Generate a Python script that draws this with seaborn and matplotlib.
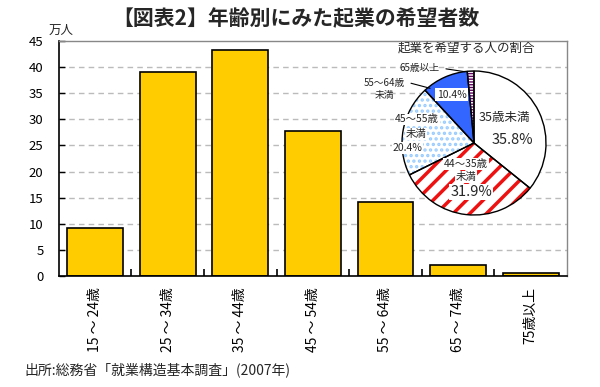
import matplotlib
matplotlib.use("Agg")
import matplotlib.pyplot as plt
import seaborn as sns
import pandas as pd

ages = ["15 〜 24歳", "25 〜 34歳", "35 〜 44歳", "45 〜 54歳", "55 〜 64歳", "65 〜 74歳", "75歳以上"]
hopefuls = [9.2, 39.1, 43.3, 27.8, 14.2, 2.1, 0.5]

pie_groups = ["35歳未満", "44〜35歳未満", "45〜55歳未満", "55〜64歳未満", "65歳以上"]
pie_shares = [35.8, 31.9, 20.4, 10.4, 1.5]

sns.set_theme(style="white")
plt.rcParams["font.family"] = ["Noto Sans CJK JP", "DejaVu Sans"]
plt.rcParams["hatch.linewidth"] = 2.5

df = pd.DataFrame({"age": ages, "count": hopefuls})

fig = plt.figure(figsize=(6, 3.87), dpi=100)
ax = fig.add_axes([0.098, 0.287, 0.847, 0.607])

sns.barplot(data=df, x="age", y="count", color="#FFCC00", saturation=1,
            width=0.77, edgecolor="black", linewidth=1.2, ax=ax)

ax.set_xlim(-0.5, 6.5)
ax.set_ylim(0, 45)
ax.set_yticks(range(0, 46, 5))
ax.set_xlabel("")
ax.set_ylabel("")
for y in range(5, 45, 5):
    ax.axhline(y, color="#BBBBBB", lw=1, ls=(0, (4, 3)), zorder=0)

ax.set_xticks(range(len(ages)))
ax.set_xticklabels(ages, rotation=90, fontsize=10, color="black")
ax.set_xticks([i + 0.5 for i in range(len(ages) - 1)], minor=True)
ax.tick_params(axis="x", which="major", length=0, pad=8)
ax.tick_params(axis="x", which="minor", direction="in", length=5, width=1.2,
               color="black", bottom=True)
ax.tick_params(axis="y", direction="in", length=4, width=1, color="black",
               labelsize=9.5, pad=11, left=True, labelcolor="black")

for side in ["left", "bottom"]:
    ax.spines[side].set_color("black")
    ax.spines[side].set_linewidth(1.2)
for side in ["top", "right"]:
    ax.spines[side].set_color("#888888")
    ax.spines[side].set_linewidth(1)

fig.text(0.102, 0.922, "万人", fontsize=9, ha="center", va="center")
fig.text(0.493, 0.953, "【図表2】年齢別にみた起業の希望者数", fontsize=15,
         weight="bold", ha="center", va="center")
fig.text(0.04, 0.044, "出所:総務省「就業構造基本調査」(2007年)", fontsize=10,
         ha="left", va="center")
fig.text(0.777, 0.876, "起業を希望する人の割合", fontsize=9, ha="center", va="center")

# inset pie
r = 72
cx, cy = 474, 143
pax = fig.add_axes([(cx - r) / 600, 1 - (cy + r) / 387, 2 * r / 600, 2 * r / 387])
faces = ["white", "white", "white", "#3366FF", "white"]
hatches = [None, "//", "...", None, "------"]
hcolors = ["black", "#EE1111", "#99CCFF", "black", "#660066"]
wedges, _ = pax.pie(pie_shares, startangle=90, counterclock=False, radius=1,
                    colors=faces, wedgeprops=dict(linewidth=0))
for w, h, hc in zip(wedges, hatches, hcolors):
    if h:
        w.set_hatch(h)
        w.set_edgecolor(hc)
# thinner stripes on the tiny 65+ slice
if hasattr(wedges[4], "set_hatch_linewidth"):
    wedges[4].set_hatch_linewidth(1.0)
    wedges[2].set_hatch_linewidth(1.6)
pax.pie(pie_shares, startangle=90, counterclock=False, radius=1,
        colors=["none"] * 5, wedgeprops=dict(linewidth=1, edgecolor="black", fill=False))
pax.set_xlim(-1, 1)
pax.set_ylim(-1, 1)
pax.set_aspect("equal")
pax.axis("off")

small = 7.5
big = 10.5
wb = dict(facecolor="white", edgecolor="none", pad=0.5)
pax.text(0.42, 0.35, "35歳未満", fontsize=small + 1.5, ha="center", va="center")
pax.text(0.53, 0.04, "35.8%", fontsize=big, ha="center", va="center")
pax.text(-0.11, -0.29, "44〜35歳", fontsize=small, ha="center", va="center", bbox=wb)
pax.text(-0.11, -0.47, "未満", fontsize=small, ha="center", va="center", bbox=wb)
pax.text(-0.04, -0.68, "31.9%", fontsize=big, ha="center", va="center", bbox=wb)
pax.text(-0.79, 0.33, "45〜55歳", fontsize=small, ha="center", va="center", bbox=wb)
pax.text(-0.81, 0.125, "未満", fontsize=small, ha="center", va="center", bbox=wb)
pax.text(-0.92, -0.07, "20.4%", fontsize=small, ha="center", va="center", bbox=wb)
pax.text(-0.31, 0.67, "10.4%", fontsize=small, ha="center", va="center",
         bbox=dict(facecolor="white", edgecolor="none", pad=1))
pax.text(-1.24, 0.83, "55〜64歳", fontsize=small - 0.5, ha="center", va="center")
pax.text(-1.24, 0.67, "未満", fontsize=small - 0.5, ha="center", va="center")
pax.text(-0.75, 1.04, "65歳以上", fontsize=small - 0.5, ha="center", va="center")
pax.plot([-0.39, -0.125], [1.03, 0.99], color="black", lw=0.8, clip_on=False)
pax.plot([-0.875, -0.61], [0.83, 0.76], color="black", lw=0.8, clip_on=False)

fig.savefig("out.png", dpi=100)
